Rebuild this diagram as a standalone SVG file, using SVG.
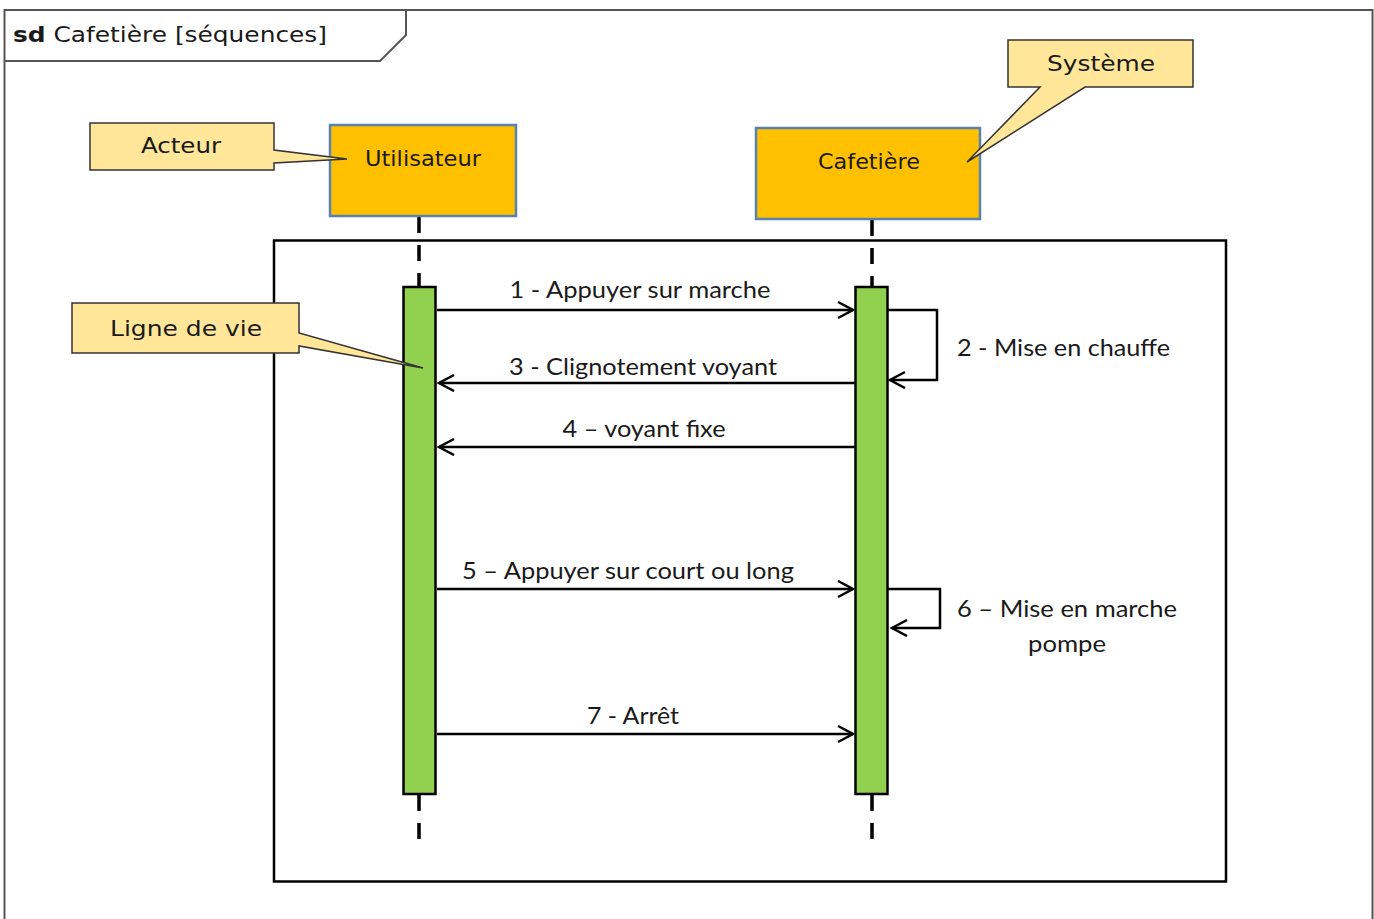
<svg xmlns="http://www.w3.org/2000/svg" width="1374" height="919" viewBox="0 0 1374 919">
<style>
.v{font-family:"DejaVu Sans","Verdana",sans-serif;font-size:21px;fill:#1a1a1a}
.m{font-family:"Lato","Liberation Sans",sans-serif;font-size:23px;fill:#1a1a1a}
.note{fill:#FFE699;stroke:#333;stroke-width:1.5}
.head{fill:#FFC000;stroke:#5A82B0;stroke-width:2.5}
.act{fill:#92D050;stroke:#000;stroke-width:2.5}
.life{stroke:#000;stroke-width:3.5;stroke-dasharray:16 12;fill:none}
.msg{stroke:#000;stroke-width:2.5;fill:none;marker-end:url(#open)}
</style>
<defs>
<marker id="open" markerUnits="userSpaceOnUse" markerWidth="20" markerHeight="20" refX="17" refY="9" orient="auto">
<path d="M2,1 L17,9 L2,17" fill="none" stroke="#000" stroke-width="2.5"/>
</marker>
</defs>
<rect width="1374" height="919" fill="#fff"/>
<g id="frame">
<path d="M4.5,930 V10 H1372.5 V930" fill="none" stroke="#555" stroke-width="2"/>
<path d="M4.5,61 H380 L406,35 V10" fill="none" stroke="#555" stroke-width="2"/>
<text class="v" x="13" y="42" textLength="314" lengthAdjust="spacingAndGlyphs"><tspan font-weight="bold">sd</tspan> Cafetière [séquences]</text>
</g>
<g id="interaction">
<rect x="274" y="240.5" width="952" height="641" fill="none" stroke="#000" stroke-width="2.5"/>
</g>
<g id="connectors">
<line class="life" x1="419" y1="217" x2="419" y2="287"/>
<line class="life" x1="419" y1="795" x2="419" y2="842"/>
<line class="life" x1="872" y1="220" x2="872" y2="287"/>
<line class="life" x1="872" y1="795" x2="872" y2="845"/>
</g>
<g id="utilisateur">
<rect class="head" x="330" y="125" width="186" height="91"/>
<text class="v" x="423" y="166" text-anchor="middle" textLength="116" lengthAdjust="spacingAndGlyphs">Utilisateur</text>
</g>
<g id="cafetiere">
<rect class="head" x="756" y="128" width="224" height="91"/>
<text class="v" x="869" y="169" text-anchor="middle" textLength="102" lengthAdjust="spacingAndGlyphs">Cafetière</text>
</g>
<g id="activation-utilisateur">
<rect class="act" x="403.5" y="287" width="32" height="507"/>
</g>
<g id="activation-cafetiere">
<rect class="act" x="855.5" y="287" width="32" height="507"/>
</g>
<g id="messages">
<line class="msg" x1="437" y1="310" x2="853" y2="310"/>
<text class="m" x="640" y="298" text-anchor="middle" textLength="261" lengthAdjust="spacingAndGlyphs">1 - Appuyer sur marche</text>
<path class="msg" d="M888,310 H937 V380 H890"/>
<text class="m" x="957" y="356" textLength="213" lengthAdjust="spacingAndGlyphs">2 - Mise en chauffe</text>
<line class="msg" x1="855" y1="383" x2="439" y2="383"/>
<text class="m" x="643" y="375" text-anchor="middle" textLength="268" lengthAdjust="spacingAndGlyphs">3 - Clignotement voyant</text>
<line class="msg" x1="855" y1="447" x2="439" y2="447"/>
<text class="m" x="644" y="437" text-anchor="middle" textLength="163" lengthAdjust="spacingAndGlyphs">4 – voyant fixe</text>
<line class="msg" x1="437" y1="589" x2="853" y2="589"/>
<text class="m" x="628" y="579" text-anchor="middle" textLength="332" lengthAdjust="spacingAndGlyphs">5 – Appuyer sur court ou long</text>
<path class="msg" d="M888,589 H940 V628 H892"/>
<text class="m" x="957" y="617" textLength="220" lengthAdjust="spacingAndGlyphs">6 – Mise en marche</text>
<text class="m" x="1067" y="652" text-anchor="middle" textLength="78" lengthAdjust="spacingAndGlyphs">pompe</text>
<line class="msg" x1="437" y1="734" x2="853" y2="734"/>
<text class="m" x="633" y="724" text-anchor="middle" textLength="92" lengthAdjust="spacingAndGlyphs">7 - Arrêt</text>
</g>
<g id="note-acteur">
<path class="note" d="M90,123 H274 V150 L347,159 L274,163 V170 H90 Z"/>
<text class="v" x="181" y="153" text-anchor="middle" textLength="80" lengthAdjust="spacingAndGlyphs">Acteur</text>
</g>
<g id="note-systeme">
<path class="note" d="M1008,40 H1193 V87 H1085 L967,162 L1040,87 H1008 Z"/>
<text class="v" x="1101" y="71" text-anchor="middle" textLength="108" lengthAdjust="spacingAndGlyphs">Système</text>
</g>
<g id="note-ligne-de-vie">
<path class="note" d="M72,303 H299 V333 L423,368 L299,346 V353 H72 Z"/>
<text class="v" x="186" y="336" text-anchor="middle" textLength="152" lengthAdjust="spacingAndGlyphs">Ligne de vie</text>
</g>
</svg>
